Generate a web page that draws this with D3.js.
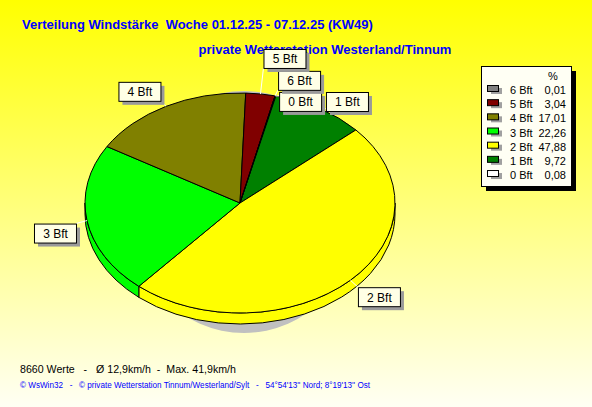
<!DOCTYPE html>
<html><head><meta charset="utf-8">
<script src="https://cdn.jsdelivr.net/npm/d3@7"></script>
<style>html,body{margin:0;padding:0;background:#fff}svg{display:block}text{font-family:"Liberation Sans",Arial,sans-serif;white-space:pre}</style>
</head><body><svg id="c" width="592" height="407"></svg>
<script>
// ---- data ----
const categories = ["6 Bft","5 Bft","4 Bft","3 Bft","2 Bft","1 Bft","0 Bft"];
const percents = [0.01, 3.04, 17.01, 22.26, 47.88, 9.72, 0.08];
const percentLabels = ["0,01","3,04","17,01","22,26","47,88","9,72","0,08"];
const colors = ["#808080","#800000","#808000","#00FF00","#FFFF00","#008000","#FFFFFF"];
const titleLines = ["Verteilung Windstärke  Woche 01.12.25 - 07.12.25 (KW49)", "private Wetterstation Westerland/Tinnum"];
const footer = "8660 Werte   -   Ø 12,9km/h  -  Max. 41,9km/h";
const copyright = "© WsWin32   -   © private Wetterstation Tinnum/Westerland/Sylt   -   54°54'13'' Nord; 8°19'13'' Ost";

// ---- layout ----
const W = 592, H = 407;
const cx = 240, cy = 203, rx = 155, ry = 110, depth = 11;
const k = ry / rx;
const startDeg = 13.1;
const labelOffsets = {"6 Bft":[3,-25], "5 Bft":[3,-45], "4 Bft":[-47.6,-24.5], "3 Bft":[-53,3], "2 Bft":[7.5,7], "1 Bft":[6.4,-16.6], "0 Bft":[3.6,-4]};
const boxW = 42, boxH = 19;

const svg = d3.select("#c");
const defs = svg.append("defs");
const grad = defs.append("linearGradient").attr("id","bg").attr("x1",0).attr("y1",0).attr("x2",0).attr("y2",1);
grad.append("stop").attr("offset","0%").attr("stop-color","#FFFF00");
grad.append("stop").attr("offset","100%").attr("stop-color","#FFFFF4");
svg.append("rect").attr("width",W).attr("height",H).attr("fill","url(#bg)");

// titles
svg.append("text").attr("x",22).attr("y",29).attr("fill","#0000FF").attr("font-size",13).attr("font-weight","bold").text(titleLines[0]);
svg.append("text").attr("x",198.6).attr("y",54).attr("fill","#0000FF").attr("font-size",13).attr("font-weight","bold").text(titleLines[1]);

// pie shadow
svg.append("ellipse").attr("cx",244).attr("cy",212).attr("rx",115).attr("ry",121).attr("fill","#C0C0C0");

// pie data: clockwise order 0 Bft .. 6 Bft
const order = d3.range(categories.length).reverse();
const s0 = startDeg * Math.PI / 180;
const pie = d3.pie().sort(null).value(i => percents[i]).startAngle(s0).endAngle(s0 + 2*Math.PI);
const arcsData = pie(order);

const g = svg.append("g").attr("transform", `translate(${cx},${cy}) scale(1,${k})`);
const h = depth / k;

// side walls (front half)
arcsData.forEach(d => {
  const a0 = Math.max(d.startAngle, Math.PI/2), a1 = Math.min(d.endAngle, 3*Math.PI/2);
  if (a1 <= a0) return;
  const p = d3.path();
  p.moveTo(rx*Math.sin(a0), -rx*Math.cos(a0));
  p.arc(0,0,rx,a0-Math.PI/2,a1-Math.PI/2,false);
  p.lineTo(rx*Math.sin(a1), -rx*Math.cos(a1)+h);
  p.arc(0,h,rx,a1-Math.PI/2,a0-Math.PI/2,true);
  p.closePath();
  g.append("path").attr("d",p.toString()).attr("fill",colors[d.data]).attr("stroke","#000").attr("stroke-width",1).attr("vector-effect","non-scaling-stroke");
});

// top faces
const arc = d3.arc().innerRadius(0).outerRadius(rx);
g.selectAll("path.slice").data(arcsData).join("path").attr("class","slice")
  .attr("d",arc).attr("fill",d => colors[d.data]).attr("stroke","#000").attr("stroke-width",1)
  .attr("vector-effect","non-scaling-stroke").attr("stroke-linejoin","round");

// labels
const labels = arcsData.map(d => {
  const m = (d.startAngle + d.endAngle)/2;
  const ax = cx + rx*Math.sin(m), ay = cy - ry*Math.cos(m);
  const name = categories[d.data];
  const off = labelOffsets[name];
  const bx = ax + off[0], by = ay + off[1];
  const lx = Math.max(bx, Math.min(bx+boxW, ax)), ly = Math.max(by, Math.min(by+boxH, ay));
  return {name, ax, ay, bx, by, lx, ly};
});
const lg = svg.append("g");
labels.forEach(l => {
  lg.append("line").attr("x1",l.ax).attr("y1",l.ay).attr("x2",l.lx).attr("y2",l.ly).attr("stroke","#fff").attr("stroke-width",1);
});
// draw labels in an order so overlaps look like the reference
const drawOrder = ["4 Bft","3 Bft","2 Bft","1 Bft","0 Bft","6 Bft","5 Bft"];
drawOrder.forEach(n => {
  const l = labels.find(x => x.name === n);
  lg.append("rect").attr("x",l.bx+4).attr("y",l.by+4).attr("width",boxW).attr("height",boxH).attr("fill","#9A9A9A");
  lg.append("rect").attr("x",l.bx+0.5).attr("y",l.by+0.5).attr("width",boxW).attr("height",boxH).attr("fill","#FFFFE6").attr("stroke","#000");
  lg.append("text").attr("x",l.bx+boxW/2+0.5).attr("y",l.by+14.5).attr("text-anchor","middle").attr("font-size",12).attr("fill","#000").text(l.name);
});

// legend
const lx0 = 481, ly0 = 66, lw = 90, lh = 120;
svg.append("rect").attr("x",lx0+5).attr("y",ly0+5).attr("width",lw).attr("height",lh).attr("fill","#000");
svg.append("rect").attr("x",lx0+0.5).attr("y",ly0+0.5).attr("width",lw).attr("height",lh).attr("fill","#FFFFF4").attr("stroke","#000");
svg.append("text").attr("x",553).attr("y",80).attr("text-anchor","middle").attr("font-size",11).text("%");
categories.forEach((c,i) => {
  const by = 94 + i*14.17;
  svg.append("rect").attr("x",491).attr("y",by-6).attr("width",11).attr("height",6).attr("fill","#A0A0A0");
  svg.append("rect").attr("x",487.5).attr("y",by-8.5).attr("width",11).attr("height",6).attr("fill",colors[i]).attr("stroke","#000");
  svg.append("text").attr("x",510).attr("y",by).attr("font-size",11).text(c);
  svg.append("text").attr("x",566).attr("y",by).attr("text-anchor","end").attr("font-size",11).text(percentLabels[i]);
});

// footer
svg.append("text").attr("x",20).attr("y",373).attr("font-size",11).attr("fill","#000").attr("textLength",216).attr("lengthAdjust","spacingAndGlyphs").text(footer);
svg.append("text").attr("x",20).attr("y",388).attr("font-size",8.5).attr("fill","#0000FF").attr("textLength",350).attr("lengthAdjust","spacingAndGlyphs").text(copyright);
</script></body></html>
